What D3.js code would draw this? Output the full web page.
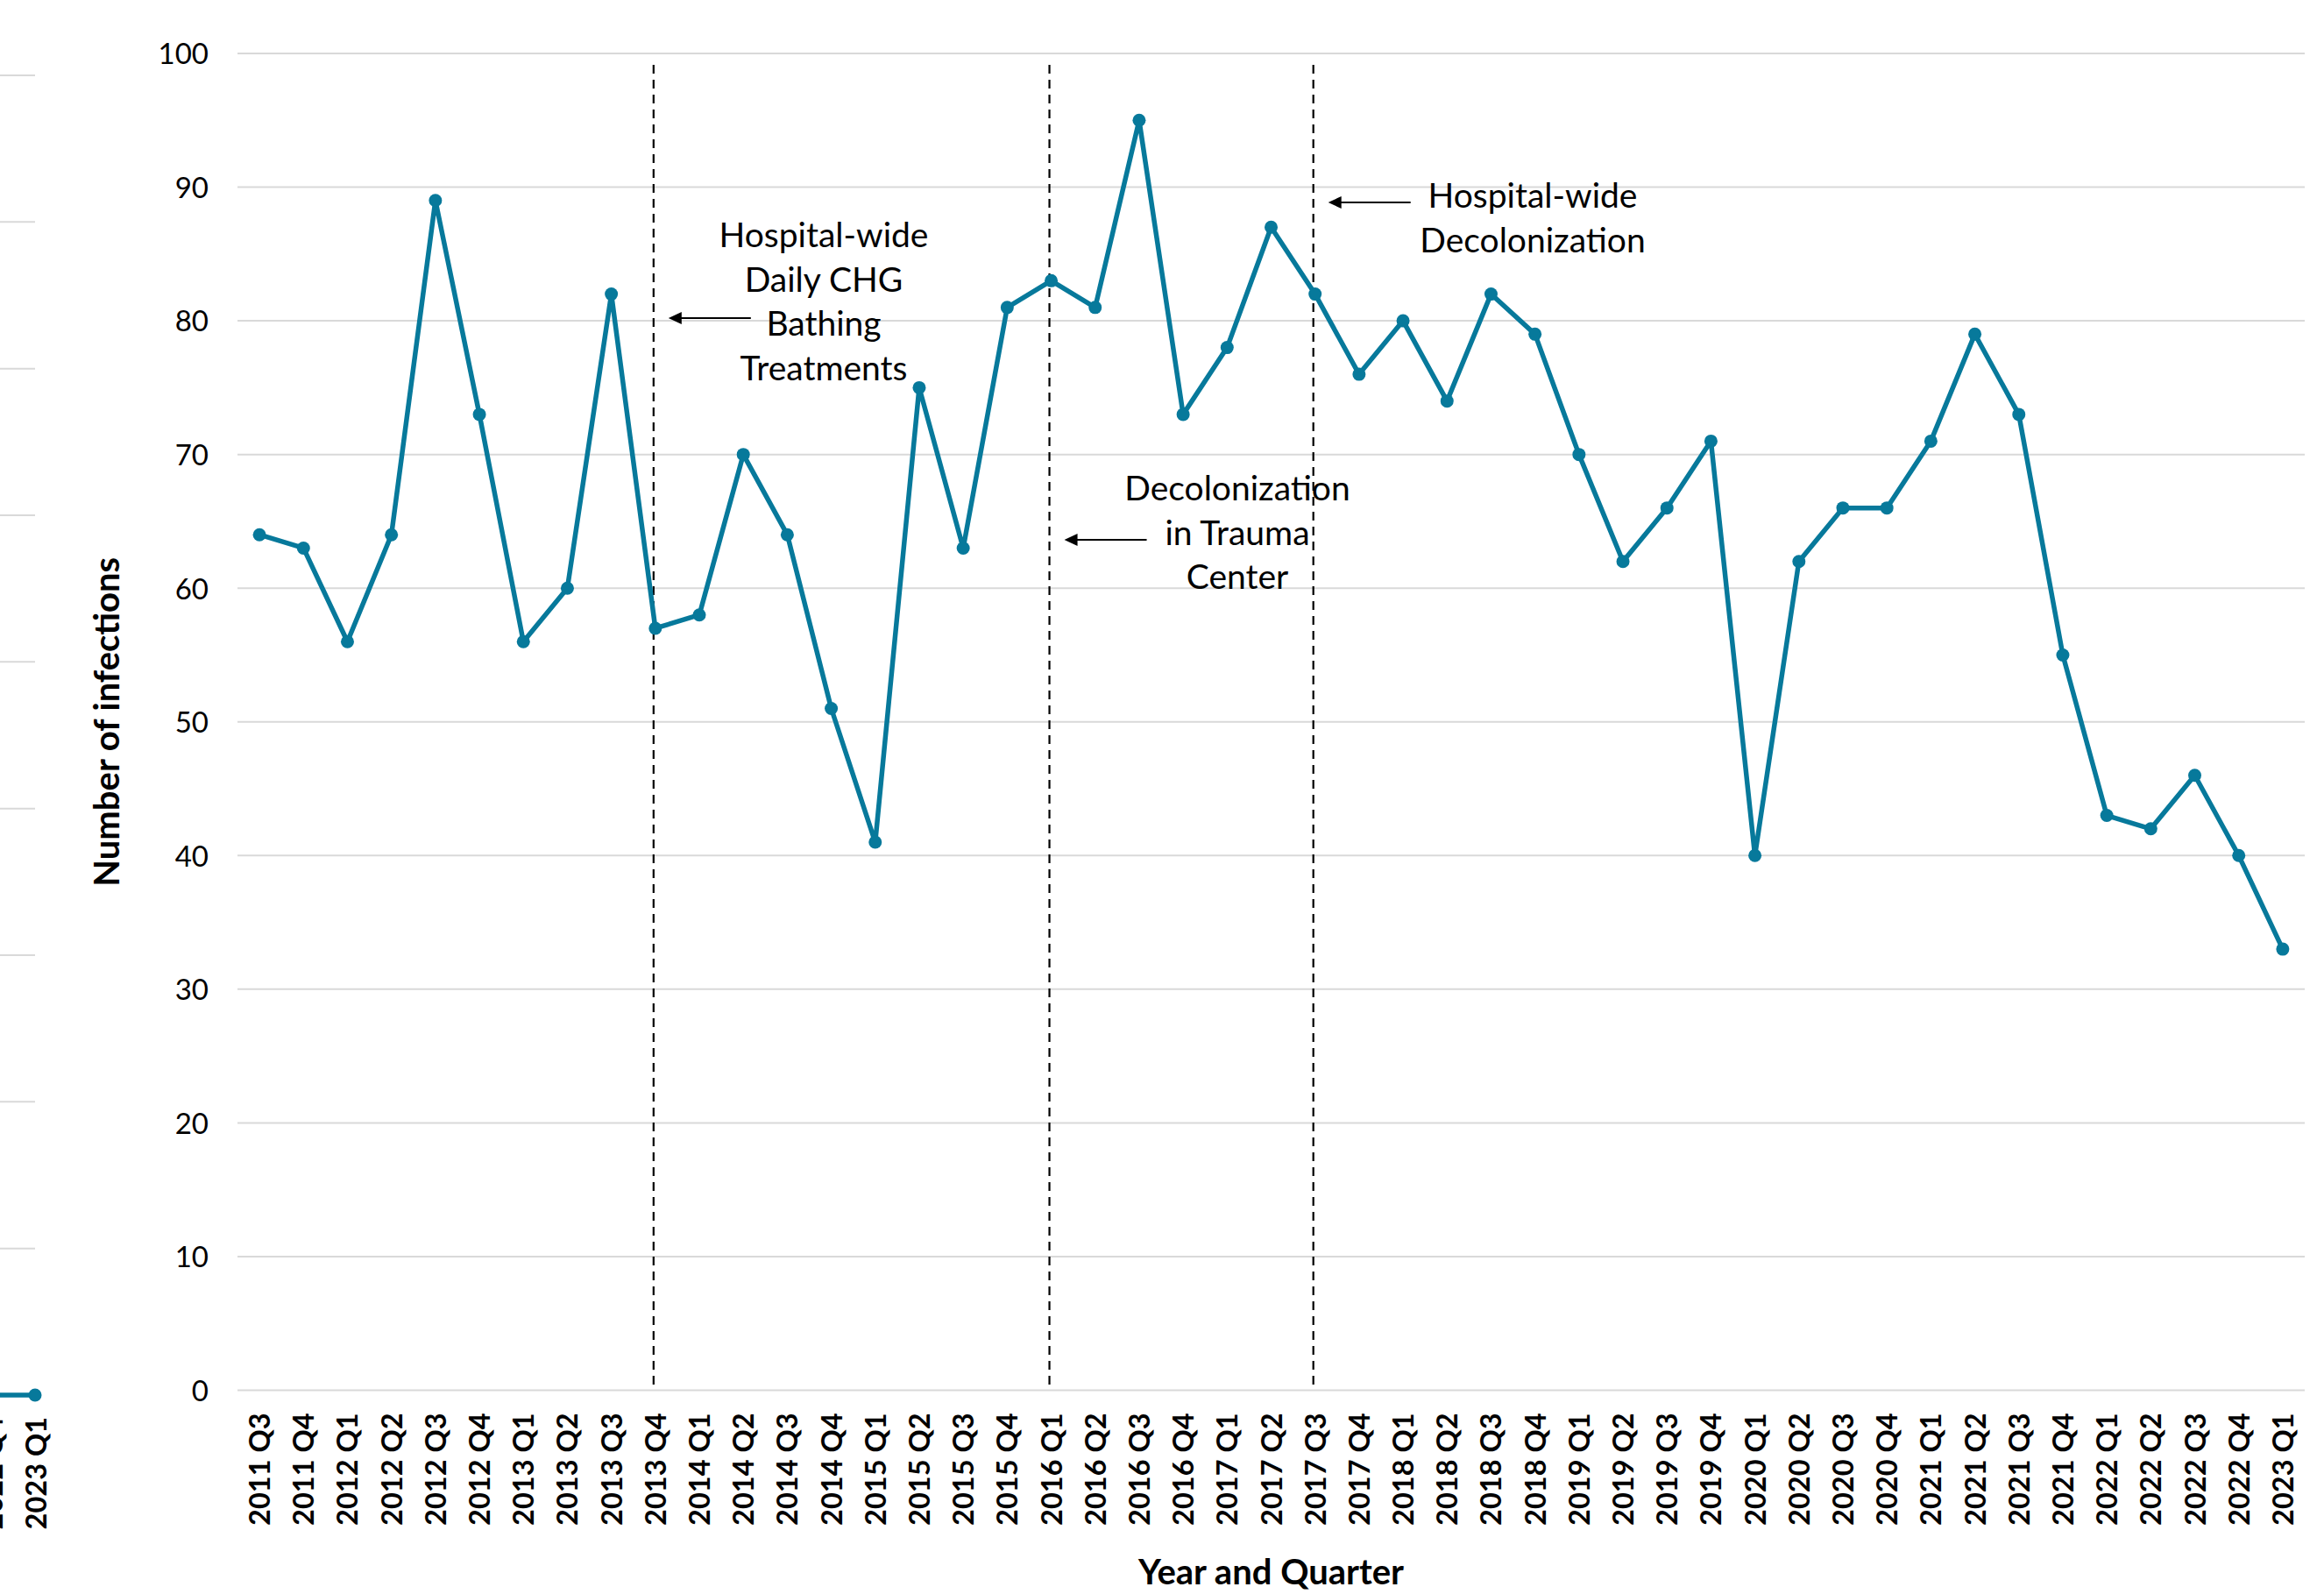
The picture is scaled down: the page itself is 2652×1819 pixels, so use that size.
<!DOCTYPE html>
<html>
<head>
<meta charset="utf-8">
<script src="https://cdn.jsdelivr.net/npm/d3@7"></script>
<style>
  html, body { margin: 0; padding: 0; background: #ffffff; }
  svg { display: block; font-family: Lato, "Open Sans", sans-serif; }
</style>
</head>
<body>
<svg id="chart" width="2652" height="1819"></svg>
<script>
// Quarterly infection counts
const quarters = [
  "2011 Q3","2011 Q4",
  "2012 Q1","2012 Q2","2012 Q3","2012 Q4",
  "2013 Q1","2013 Q2","2013 Q3","2013 Q4",
  "2014 Q1","2014 Q2","2014 Q3","2014 Q4",
  "2015 Q1","2015 Q2","2015 Q3","2015 Q4",
  "2016 Q1","2016 Q2","2016 Q3","2016 Q4",
  "2017 Q1","2017 Q2","2017 Q3","2017 Q4",
  "2018 Q1","2018 Q2","2018 Q3","2018 Q4",
  "2019 Q1","2019 Q2","2019 Q3","2019 Q4",
  "2020 Q1","2020 Q2","2020 Q3","2020 Q4",
  "2021 Q1","2021 Q2","2021 Q3","2021 Q4",
  "2022 Q1","2022 Q2","2022 Q3","2022 Q4",
  "2023 Q1"
];
const infections = [
  64, 63,
  56, 64, 89, 73,
  56, 60, 82, 57,
  58, 70, 64, 51,
  41, 75, 63, 81,
  83, 81, 95, 73,
  78, 87, 82, 76,
  80, 74, 82, 79,
  70, 62, 66, 71,
  40, 62, 66, 66,
  71, 79, 73, 55,
  43, 42, 46, 40,
  33
];
const yTicks = [0, 10, 20, 30, 40, 50, 60, 70, 80, 90, 100];

// Interventions marked with dashed lines
const interventionQuarters = ["2013 Q4", "2016 Q1", "2017 Q3"];
const interventionLabels = [
  ["Hospital-wide", "Daily CHG", "Bathing", "Treatments"],
  ["Decolonization", "in Trauma", "Center"],
  ["Hospital-wide", "Decolonization"]
];

// Edge of the neighbouring panel (only its last quarters fall inside the frame)
const neighbourQuarters = ["2022 Q4", "2023 Q1"];
const neighbourValues = [0, 0];
const neighbourTicks = [0, 1, 2, 3, 4, 5, 6, 7, 8, 9];

const TEAL = "#07799b";
const GRID = "#d9d9d9";

const svg = d3.select("#chart");

const plot = { left: 271, right: 2630, top: 61, bottom: 1586.5 };

const x = d3.scalePoint().domain(quarters).range([plot.left, plot.right]).padding(0.5);
const y = d3.scaleLinear().domain([0, 100]).range([plot.bottom, plot.top]);

// Gridlines
svg.append("g")
  .selectAll("line")
  .data(yTicks)
  .join("line")
  .attr("x1", plot.left).attr("x2", plot.right)
  .attr("y1", d => y(d)).attr("y2", d => y(d))
  .attr("stroke", GRID).attr("stroke-width", 2);

// Y axis labels
const yAxis = svg.append("g")
  .attr("transform", `translate(${plot.left},0)`)
  .call(d3.axisLeft(y).tickValues(yTicks).tickSize(0).tickPadding(33));
yAxis.select(".domain").remove();
yAxis.selectAll("text")
  .attr("font-family", "Lato, sans-serif")
  .attr("font-size", 33)
  .attr("fill", "#000")
  .attr("dy", "0.36em");

// X axis labels (rotated)
const xAxis = svg.append("g")
  .attr("transform", `translate(0,${plot.bottom})`)
  .call(d3.axisBottom(x).tickSize(0).tickPadding(0));
xAxis.select(".domain").remove();
xAxis.selectAll(".tick text")
  .attr("font-family", "Lato, sans-serif")
  .attr("font-weight", 700)
  .attr("font-size", 32.5)
  .attr("fill", "#000")
  .attr("text-anchor", "end")
  .attr("y", 0).attr("dy", 0)
  .attr("transform", "translate(11.5,26) rotate(-90)");

// Intervention dashed lines
svg.append("g")
  .selectAll("line")
  .data(interventionQuarters)
  .join("line")
  .attr("x1", d => x(d) - 2).attr("x2", d => x(d) - 2)
  .attr("y1", 74).attr("y2", plot.bottom)
  .attr("stroke", "#000").attr("stroke-width", 2.2)
  .attr("stroke-dasharray", "10,7");

// Series line and markers
const line = d3.line().x((d, i) => x(quarters[i])).y(d => y(d));
svg.append("path")
  .datum(infections)
  .attr("d", line)
  .attr("fill", "none")
  .attr("stroke", TEAL)
  .attr("stroke-width", 5.5)
  .attr("stroke-linejoin", "round");
svg.append("g")
  .selectAll("circle")
  .data(infections)
  .join("circle")
  .attr("cx", (d, i) => x(quarters[i]))
  .attr("cy", d => y(d))
  .attr("r", 7.5)
  .attr("fill", TEAL);

// Annotation callouts: arrow pointing to the dashed line, text block beside it
const callouts = [
  { arrowY: 363, textX: 940, firstBaseline: 282 },
  { arrowY: 616, textX: 1412, firstBaseline: 571 },
  { arrowY: 231, textX: 1749, firstBaseline: 237 }
];
const lineGap = 50.5;
const ann = svg.append("g");
interventionQuarters.forEach((q, i) => {
  const c = callouts[i];
  const tipX = x(q) + 15;
  const tailX = tipX + 94;
  ann.append("line")
    .attr("x1", tipX + 12).attr("x2", tailX)
    .attr("y1", c.arrowY).attr("y2", c.arrowY)
    .attr("stroke", "#000").attr("stroke-width", 2.2);
  ann.append("path")
    .attr("d", `M${tipX},${c.arrowY} L${tipX + 15},${c.arrowY - 7} L${tipX + 15},${c.arrowY + 7} Z`)
    .attr("fill", "#000");
  const t = ann.append("text")
    .attr("text-anchor", "middle")
    .attr("font-size", 39)
    .attr("fill", "#000");
  interventionLabels[i].forEach((s, k) => {
    t.append("tspan")
      .attr("x", c.textX)
      .attr("y", c.firstBaseline + k * lineGap)
      .text(s);
  });
});

// Axis titles
svg.append("text")
  .attr("transform", `translate(136,${(plot.top + plot.bottom) / 2}) rotate(-90)`)
  .attr("text-anchor", "middle")
  .attr("font-weight", 700)
  .attr("font-size", 40)
  .attr("fill", "#000")
  .text("Number of infections");

svg.append("text")
  .attr("x", (plot.left + plot.right) / 2)
  .attr("y", 1808)
  .attr("text-anchor", "middle")
  .attr("font-weight", 700)
  .attr("font-size", 40)
  .attr("fill", "#000")
  .text("Year and Quarter");

// Neighbouring panel edge, clipped to the left margin
svg.append("clipPath").attr("id", "neighbour-clip")
  .append("rect").attr("x", 0).attr("y", 0).attr("width", 48).attr("height", 1819);
const nb = svg.append("g").attr("clip-path", "url(#neighbour-clip)");
const nx = d3.scalePoint().domain(neighbourQuarters).range([-10, 40]);
const ny = d3.scaleLinear().domain([0, 9]).range([1592, 86]);
nb.selectAll("line.grid")
  .data(neighbourTicks)
  .join("line")
  .attr("class", "grid")
  .attr("x1", -20).attr("x2", 40)
  .attr("y1", d => ny(d)).attr("y2", d => ny(d))
  .attr("stroke", GRID).attr("stroke-width", 2);
nb.append("path")
  .datum(neighbourValues)
  .attr("d", d3.line().x((d, i) => nx(neighbourQuarters[i])).y(d => ny(d)))
  .attr("fill", "none").attr("stroke", TEAL).attr("stroke-width", 5.5);
nb.selectAll("circle")
  .data(neighbourValues)
  .join("circle")
  .attr("cx", (d, i) => nx(neighbourQuarters[i]))
  .attr("cy", d => ny(d))
  .attr("r", 7.5).attr("fill", TEAL);
svg.append("g").selectAll("text")
  .data(neighbourQuarters)
  .join("text")
  .attr("transform", d => `translate(${nx(d) + 13},1617) rotate(-90)`)
  .attr("text-anchor", "end")
  .attr("font-weight", 700)
  .attr("font-size", 32.5)
  .attr("fill", "#000")
  .text(d => d);
</script>
</body>
</html>
